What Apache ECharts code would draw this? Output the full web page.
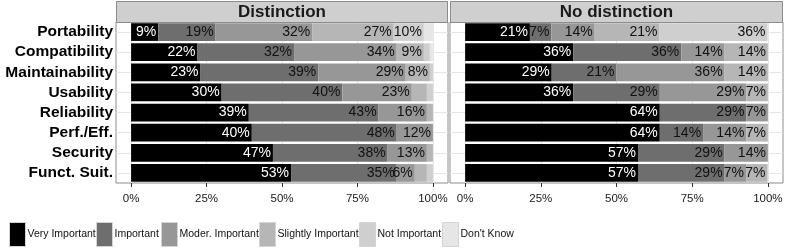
<!DOCTYPE html>
<html>
<head>
<meta charset="utf-8">
<script src="https://cdn.jsdelivr.net/npm/echarts@6/dist/echarts.min.js"></script>
<style>
html,body{margin:0;padding:0;background:#fff;}
#chart{width:789px;height:252px;}
</style>
</head>
<body>
<div id="chart"></div>
<script>
// ---- data ----
const categories = ['Portability','Compatibility','Maintainability','Usability','Reliability','Perf./Eff.','Security','Funct. Suit.'];
const levels = ['Very Important','Important','Moder. Important','Slightly Important','Not Important',"Don't Know"];
const panels = ['Distinction','No distinction'];
const xTicks = [0,25,50,75,100];

// Distinction (percent)
const distVeryImportant     = [9, 22, 23, 30, 39, 40, 47, 53];
const distImportant         = [19, 32, 39, 40, 43, 48, 38, 35];
const distModerImportant    = [32, 34, 29, 23, 16, 12, 13, 6];
const distSlightlyImportant = [27, 9, 8, 5, 2, 0, 2, 4];
const distNotImportant      = [10, 2, 1, 2, 0, 0, 0, 2];
const distDontKnow          = [3, 1, 0, 0, 0, 0, 0, 0];

// No distinction (percent)
const ndVeryImportant     = [21.4, 35.7, 28.6, 35.7, 64.3, 64.3, 57.1, 57.1];
const ndImportant         = [7.1, 35.7, 21.4, 28.6, 28.6, 14.3, 28.6, 28.6];
const ndModerImportant    = [14.3, 14.3, 35.7, 28.6, 7.1, 14.3, 14.3, 7.1];
const ndSlightlyImportant = [21.4, 14.3, 14.3, 7.1, 0, 7.1, 0, 7.1];
const ndNotImportant      = [35.7, 0, 0, 0, 0, 0, 0, 0];
const ndDontKnow          = [0, 0, 0, 0, 0, 0, 0, 0];

const distData = [distVeryImportant, distImportant, distModerImportant, distSlightlyImportant, distNotImportant, distDontKnow];
const ndData = [ndVeryImportant, ndImportant, ndModerImportant, ndSlightlyImportant, ndNotImportant, ndDontKnow];

// ---- styles ----
const colors = ['#000000','#6e6e6e','#979797','#b6b6b6','#cfcfcf','#e6e6e6'];
const sans = "'Liberation Sans',Arial,sans-serif";
const gridLine = '#e6e6e6';
const borderCol = '#8c8c8c';
const legendLeft = [9, 96, 161, 259, 359, 442];

const grids = [
  {left:116, top:22, width:332, height:161},
  {left:450, top:22, width:333, height:161}
];

function barSeries(dataSets, gi){
  return levels.map((lv, i) => ({
    name: lv,
    type: 'bar',
    stack: 'p' + gi,
    xAxisIndex: gi,
    yAxisIndex: gi,
    barWidth: '88%',
    z: 3,
    itemStyle: {color: colors[i]},
    emphasis: {disabled: true},
    label: {
      show: true,
      position: 'insideRight',
      distance: 2,
      fontFamily: sans,
      fontSize: 14,
      color: i === 0 ? '#ffffff' : '#111111',
      formatter: p => p.value > 5 ? Math.round(p.value) + '%' : ''
    },
    data: dataSets[i]
  }));
}

function gridSeries(gi){
  return {
    type: 'line',
    xAxisIndex: gi,
    yAxisIndex: gi,
    data: [],
    silent: true,
    markLine: {
      silent: true,
      symbol: ['none','none'],
      z: 1,
      label: {show: false},
      lineStyle: {color: gridLine, width: 1, type: 'solid'},
      emphasis: {disabled: true},
      data: xTicks.map(v => ({xAxis: v})).concat(categories.map(c => ({yAxis: c})))
    }
  };
}

const series = [].concat(
  barSeries(distData, 0),
  barSeries(ndData, 1),
  [gridSeries(0), gridSeries(1)]
);

const xAxes = grids.map((g, gi) => ({
  type: 'value',
  gridIndex: gi,
  min: -5,
  max: 105,
  axisLine: {show: false},
  splitLine: {show: false},
  axisTick: {show: true, length: 4, customValues: xTicks, lineStyle: {color: '#333'}},
  axisLabel: {
    customValues: xTicks,
    margin: 10,
    fontFamily: sans,
    fontSize: 11.5,
    color: '#1a1a1a',
    formatter: v => v + '%'
  }
}));

const yAxes = grids.map((g, gi) => ({
  type: 'category',
  gridIndex: gi,
  data: categories,
  inverse: true,
  axisLine: {show: false},
  splitLine: {show: false},
  axisTick: {show: gi === 0, length: 4, alignWithLabel: true, interval: 0, lineStyle: {color: '#333'}},
  axisLabel: {
    show: gi === 0,
    interval: 0,
    margin: 3,
    fontFamily: sans,
    fontWeight: 'bold',
    fontSize: 15.5,
    color: '#000'
  }
}));

const graphic = grids.map((g, gi) => ({
  type: 'group',
  children: [
    {type: 'rect', shape: {x: g.left + 0.5, y: 1.5, width: g.width - 1, height: g.top - 1},
     style: {fill: '#cfcfcf', stroke: borderCol, lineWidth: 1}, z: 10},
    {type: 'text', x: g.left + g.width / 2, y: 12.5,
     style: {text: panels[gi], textAlign: 'center', textVerticalAlign: 'middle',
             font: 'bold 17px ' + sans, fill: '#1a1a1a'}, z: 11}
  ]
}));

const legends = levels.map((lv, i) => ({
  data: [lv],
  left: legendLeft[i],
  top: 222,
  padding: 0,
  orient: 'horizontal',
  itemWidth: 16,
  itemHeight: 24,
  icon: 'rect',
  selectedMode: false,
  itemStyle: {borderColor: '#d4d4d4', borderWidth: 1},
  textStyle: {fontFamily: sans, fontSize: 10.5, color: '#111', padding: [0, 0, 0, -3]}
}));

const option = {
  animation: false,
  backgroundColor: '#fff',
  grid: grids.map(g => Object.assign({show: true, backgroundColor: '#fff', borderColor: borderCol, borderWidth: 1, containLabel: false}, g)),
  xAxis: xAxes,
  yAxis: yAxes,
  legend: legends,
  graphic: graphic,
  series: series
};

const chart = echarts.init(document.getElementById('chart'), null, {renderer: 'canvas'});
chart.setOption(option);
</script>
</body>
</html>
